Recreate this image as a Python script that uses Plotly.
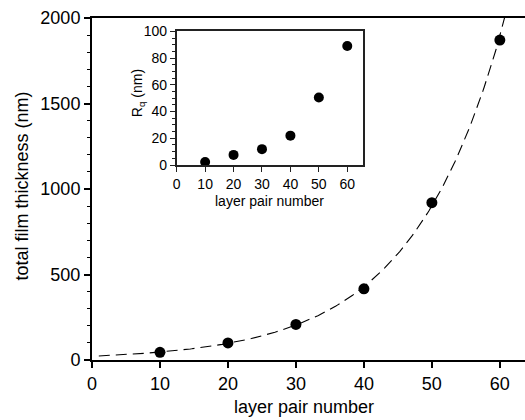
import numpy as np
import plotly.graph_objects as go

# Main data: total film thickness vs layer pair number
layer_pairs = [10, 20, 30, 40, 50, 60]
thickness_nm = [45, 100, 208, 416, 920, 1871]

# Inset data: roughness Rq vs layer pair number
rq_nm = [2.3, 7.6, 11.9, 22, 50.5, 89]

# Exponential fit to the main data (least squares on log scale)
b, ln_a = np.polyfit(np.array(layer_pairs, float), np.log(thickness_nm), 1)
fit_x = np.linspace(1, 62, 300)
fit_y = np.exp(ln_a) * np.exp(b * fit_x)

FONT = "Liberation Sans, Arial, Helvetica, sans-serif"

fig = go.Figure()
fig.add_trace(go.Scatter(x=fit_x, y=fit_y, mode="lines",
                         line=dict(color="black", width=1.1, dash="11px,6px"),
                         showlegend=False, hoverinfo="skip"))
fig.add_trace(go.Scatter(x=layer_pairs, y=thickness_nm, mode="markers",
                         marker=dict(color="black", size=11),
                         showlegend=False, cliponaxis=False))
fig.add_trace(go.Scatter(x=layer_pairs, y=rq_nm, mode="markers",
                         marker=dict(color="black", size=10),
                         xaxis="x2", yaxis="y2", showlegend=False, cliponaxis=False))

fig.update_layout(
    width=525, height=420,
    margin=dict(l=92, r=0, t=18, b=60),
    paper_bgcolor="white", plot_bgcolor="white",
    font=dict(family=FONT, color="black"),
    xaxis=dict(range=[0, 63.7], dtick=10, tick0=0, showgrid=False, zeroline=False,
               showline=True, linecolor="black", linewidth=2, mirror=True,
               ticks="outside", ticklen=6, tickwidth=1.5, tickcolor="black",
               tickfont=dict(size=18)),
    yaxis=dict(range=[0, 2000], dtick=500, tick0=0, showgrid=False, zeroline=False,
               showline=True, linecolor="black", linewidth=2, mirror=False,
               ticks="outside", ticklen=6, tickwidth=1.5, tickcolor="black",
               tickfont=dict(size=18),
               minor=dict(dtick=100, ticks="outside", ticklen=3, tickwidth=1, tickcolor="black")),
    xaxis2=dict(domain=[0.1956, 0.625], anchor="y2", range=[0, 65.4], dtick=10, tick0=0,
                showgrid=False, zeroline=False, showline=True, linecolor="#222",
                linewidth=1.5, mirror=True, ticks="outside", ticklen=5, tickwidth=1.2,
                tickcolor="#222", tickfont=dict(size=14)),
    yaxis2=dict(domain=[0.57, 0.961], anchor="x2", range=[0, 100], dtick=20, tick0=0,
                showgrid=False, zeroline=False, showline=True, linecolor="#222",
                linewidth=1.5, mirror=True, ticks="outside", ticklen=5, tickwidth=1.2,
                tickcolor="#222", tickfont=dict(size=14),
                minor=dict(dtick=5, ticks="outside", ticklen=2.5, tickwidth=1, tickcolor="#222")),
    annotations=[
        dict(text="layer pair number", xref="paper", yref="paper", x=0.49, y=-0.138,
             xanchor="center", yanchor="middle", showarrow=False, font=dict(size=18)),
        dict(text="total film thickness (nm)", xref="paper", yref="paper", x=-0.162, y=0.51,
             xanchor="center", yanchor="middle", textangle=-90, showarrow=False,
             font=dict(size=18)),
        dict(text="R<sub>q</sub> (nm)", xref="paper", yref="paper", x=0.106, y=0.78,
             xanchor="center", yanchor="middle", textangle=-90, showarrow=False,
             font=dict(size=14)),
        dict(text="layer pair number", xref="paper", yref="paper", x=0.409, y=0.466,
             xanchor="center", yanchor="middle", showarrow=False, font=dict(size=14)),
    ],
)

fig.write_html("out.html")
